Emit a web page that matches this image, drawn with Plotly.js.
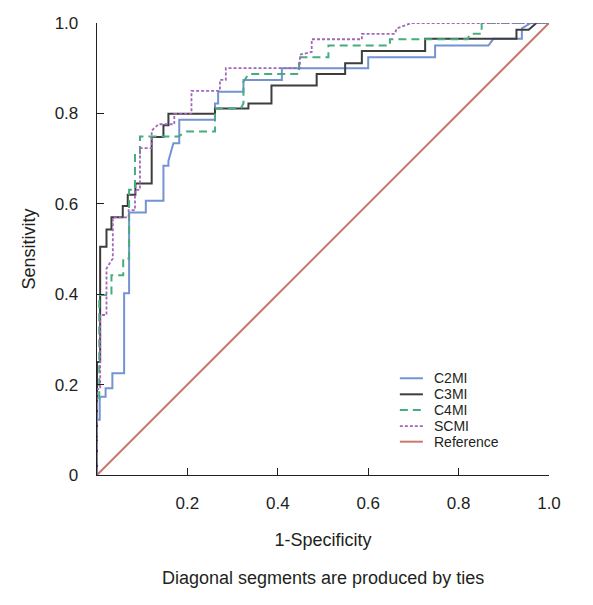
<!DOCTYPE html>
<html>
<head>
<meta charset="utf-8">
<script src="https://cdn.plot.ly/plotly-3.0.1.min.js"></script>
<style>html,body{margin:0;padding:0;background:#fff;}#chart{width:593px;height:605px;}</style>
</head>
<body>
<div id="chart"></div>
<script>
// ---- data ----
var seriesNames = ['C2MI', 'C3MI', 'C4MI', 'SCMI', 'Reference'];

var c2miX = [0,0,0.006,0.006,0.019,0.019,0.034,0.034,0.060,0.060,0.071,0.071,0.108,0.108,0.147,0.147,0.158,0.158,0.169,0.182,0.182,0.261,0.261,0.268,0.268,0.324,0.324,0.409,0.409,0.600,0.600,0.748,0.748,0.866,0.877,0.940,0.940,0.960,1];
var c2miY = [0,0.122,0.122,0.173,0.173,0.192,0.192,0.225,0.225,0.402,0.402,0.581,0.581,0.607,0.607,0.684,0.684,0.695,0.734,0.734,0.786,0.786,0.822,0.822,0.848,0.848,0.874,0.874,0.900,0.900,0.924,0.924,0.950,0.950,0.965,0.965,0.988,1,1];

var c3miX = [0,0,0.007,0.007,0.021,0.021,0.032,0.032,0.057,0.057,0.068,0.068,0.085,0.085,0.121,0.121,0.147,0.147,0.158,0.158,0.261,0.261,0.335,0.335,0.386,0.386,0.486,0.486,0.549,0.549,0.586,0.586,0.726,0.726,0.928,0.928,0.955,0.972,1];
var c3miY = [0,0.25,0.25,0.505,0.505,0.543,0.543,0.57,0.57,0.595,0.595,0.62,0.62,0.645,0.645,0.748,0.748,0.774,0.774,0.799,0.799,0.811,0.811,0.822,0.822,0.862,0.862,0.887,0.887,0.911,0.911,0.938,0.938,0.965,0.965,0.985,0.985,1,1];

var c4miX = [0,0,0.005,0.005,0.032,0.032,0.058,0.058,0.071,0.071,0.084,0.084,0.095,0.095,0.180,0.198,0.261,0.261,0.318,0.324,0.324,0.335,0.447,0.447,0.512,0.512,0.648,0.648,0.820,0.825,0.851,0.851,1];
var c4miY = [0,0.16,0.16,0.398,0.398,0.442,0.442,0.479,0.479,0.631,0.631,0.712,0.712,0.749,0.749,0.760,0.760,0.811,0.811,0.822,0.870,0.887,0.887,0.924,0.924,0.950,0.950,0.964,0.964,0.976,0.976,1,1];

var scmiX = [0,0,0.007,0.007,0.021,0.021,0.035,0.035,0.070,0.070,0.084,0.084,0.095,0.095,0.121,0.121,0.136,0.171,0.171,0.209,0.209,0.272,0.272,0.285,0.285,0.449,0.449,0.475,0.475,0.586,0.586,0.659,0.663,0.696,1];
var scmiY = [0,0.19,0.19,0.354,0.354,0.457,0.479,0.57,0.57,0.586,0.586,0.631,0.631,0.723,0.723,0.762,0.776,0.776,0.799,0.799,0.850,0.850,0.874,0.874,0.900,0.900,0.930,0.936,0.964,0.964,0.976,0.976,0.988,1,1];

var refX = [0, 1];
var refY = [0, 1];

var tickValsX = [0.2, 0.4, 0.6, 0.8, 1.0];
var tickTextX = ['0.2', '0.4', '0.6', '0.8', '1.0'];
var tickValsY = [0, 0.2, 0.4, 0.6, 0.8, 1.0];
var tickTextY = ['0', '0.2', '0.4', '0.6', '0.8', '1.0'];

// ---- styles ----
var styles = [
  {color: '#7393d2', width: 2,   dash: 'solid'},
  {color: '#3d3d3d', width: 2,   dash: 'solid'},
  {color: '#45ad7e', width: 2,   dash: '8px,5px'},
  {color: '#a067bb', width: 1.8, dash: '3px,2px'},
  {color: '#c9786f', width: 2,   dash: 'solid'}
];
var xs = [c2miX, c3miX, c4miX, scmiX, refX];
var ys = [c2miY, c3miY, c4miY, scmiY, refY];

var traces = [];
// draw reference first so curves sit on top
var order = [4, 0, 1, 2, 3];
order.forEach(function (i) {
  traces.push({
    type: 'scatter', mode: 'lines', name: seriesNames[i],
    x: xs[i], y: ys[i], showlegend: false, hoverinfo: 'skip',
    line: {color: styles[i].color, width: styles[i].width, dash: styles[i].dash, shape: 'linear'}
  });
});

var textColor = '#231f20';
var fontFam = '"Liberation Sans", Arial, Helvetica, sans-serif';

// legend (drawn in paper coordinates)
var legX0 = 0.670, legX1 = 0.721, legTextX = 0.743;
var legY = [0.214, 0.1785, 0.144, 0.108, 0.0737];
var shapes = [], annotations = [];
seriesNames.forEach(function (n, i) {
  shapes.push({type: 'line', xref: 'paper', yref: 'paper', x0: legX0, x1: legX1, y0: legY[i], y1: legY[i],
    line: {color: styles[i].color, width: styles[i].width, dash: styles[i].dash}});
  annotations.push({xref: 'paper', yref: 'paper', x: legTextX, y: legY[i], xanchor: 'left', yanchor: 'middle',
    text: n, showarrow: false, borderpad: 0, font: {family: fontFam, size: 14, color: textColor}});
});
annotations.push({xref: 'paper', yref: 'paper', x: 0.5, y: -0.228, xanchor: 'center', yanchor: 'middle',
  text: 'Diagonal segments are produced by ties', showarrow: false,
  font: {family: fontFam, size: 18, color: textColor}});

var axisCommon = {
  range: [0, 1], showgrid: false, zeroline: false, showline: true,
  linecolor: textColor, linewidth: 1.3, ticks: 'inside', ticklen: 7, tickwidth: 1.3, tickcolor: textColor,
  tickfont: {family: fontFam, size: 17, color: textColor}, fixedrange: true
};

var layout = {
  width: 593, height: 605,
  margin: {l: 97, r: 44, t: 23, b: 130},
  paper_bgcolor: '#ffffff', plot_bgcolor: '#ffffff',
  showlegend: false,
  xaxis: Object.assign({}, axisCommon, {
    tickmode: 'array', tickvals: tickValsX, ticktext: tickTextX, ticklabelstandoff: 12,
    title: {text: '1-Specificity', font: {family: fontFam, size: 18, color: textColor}, standoff: 21}
  }),
  yaxis: Object.assign({}, axisCommon, {
    tickmode: 'array', tickvals: tickValsY, ticktext: tickTextY, ticklabelstandoff: 14,
    title: {text: 'Sensitivity', font: {family: fontFam, size: 18, color: textColor}, standoff: 14}
  }),
  shapes: shapes,
  annotations: annotations
};

Plotly.newPlot('chart', traces, layout, {displayModeBar: false, staticPlot: true});
</script>
</body>
</html>
